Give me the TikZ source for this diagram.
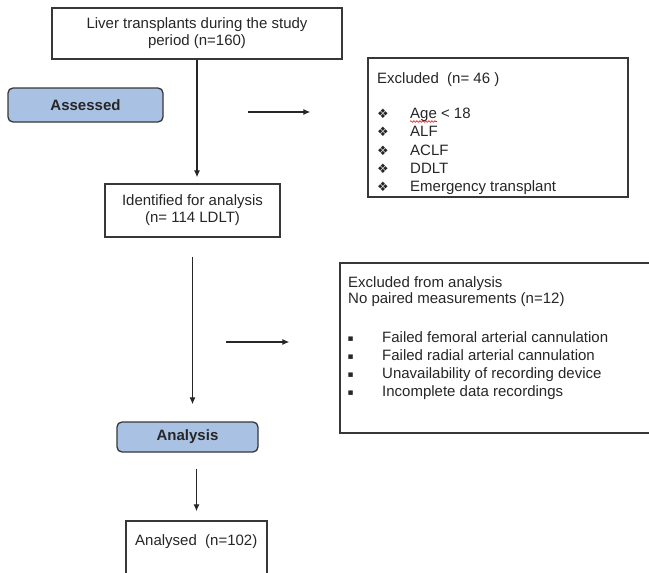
\documentclass[tikz,border=0pt]{standalone}
\usepackage{fontspec}
\setmainfont{Liberation Sans}
\newfontfamily\symfont{DejaVu Sans}
\usetikzlibrary{calc,arrows.meta,decorations.pathmorphing}
\definecolor{boxline}{RGB}{55,55,55}
\definecolor{stagefill}{RGB}{169,193,227}
\tikzstyle{every node}=[font=\fontsize{15}{17}\selectfont,text=black!85]
\tikzstyle{box}=[draw=boxline,line width=1.3pt,inner sep=0pt,align=center]
\tikzstyle{stage}=[box,rounded corners=5pt,fill=stagefill,font=\fontsize{15}{17}\selectfont\bfseries]
\tikzstyle{arr}=[-{Latex[length=7pt,width=6pt]},line width=1.2pt,draw=black!85]
\tikzstyle{lbl}=[anchor=base west,inner sep=0pt]

\begin{document}
\begin{tikzpicture}[x=1pt,y=-1pt]
  \useasboundingbox (0,0) rectangle (649,573);
  \clip (0,0) rectangle (649,573);

  % main column
  \node[box,minimum width=290pt,minimum height=51pt] (total) at (197,33.5) {Liver transplants during the study\\period (n=160)};
  \node[stage,minimum width=155pt,minimum height=34pt] (assessed) at (85.5,105) {Assessed};
  \node[box,minimum width=175pt,minimum height=53pt] (ident) at (192.5,210.5) {Identified for analysis\\(n= 114 LDLT)};
  \node[stage,minimum width=141pt,minimum height=30pt] (analysis) at (187.5,437) {Analysis};
  \node[box,minimum width=141pt,minimum height=80pt] (analysed) at (196.5,561) {};
  \node[lbl] (analysedtxt) at (135,545.5) {Analysed\ \ (n=102)};

  % first exclusion
  \node[box,minimum width=260pt,minimum height=139pt] (excl) at (498,127.5) {};
  \node[lbl] (excltitle) at (377,83.5) {Excluded\ \ (n= 46 )};
  \foreach \i/\txt in {0/Age < 18,1/ALF,2/ACLF,3/DDLT,4/Emergency transplant}{
    \node[lbl,font=\symfont\fontsize{13}{13}\selectfont] (exclbullet\i) at (377,118.5+18.25*\i) {❖};
    \node[lbl] (exclitem\i) at (410,118.5+18.25*\i) {\txt};
  }
  \draw[red,line width=0.6pt,decorate,decoration={snake,amplitude=0.8pt,segment length=3pt}]
    ($(exclitem0.base west)+(0,3)$) -- ++(27,0);

  % second exclusion
  \node[box,minimum width=360pt,minimum height=170pt] (nopair) at (520,348) {};
  \node[lbl] (nopairtitle) at (348,287) {Excluded from analysis};
  \node[lbl] (nopairsub) at (348,303) {No paired measurements (n=12)};
  \foreach \i/\txt in {0/Failed femoral arterial cannulation,1/Failed radial arterial cannulation,2/Unavailability of recording device,3/Incomplete data recordings}{
    \node[lbl,font=\symfont\fontsize{9}{9}\selectfont] (nopairbullet\i) at (347.5,341+18.3*\i) {▪};
    \node[lbl] (nopairitem\i) at (382,342+18.3*\i) {\txt};
  }

  % arrows
  \draw[arr,shorten >=6pt] (total.south) -- (total.south |- ident.north);
  \draw[arr,shorten <=19pt,shorten >=17pt] (ident.south) -- (ident.south |- analysis.north);
  \draw[arr,shorten <=16pt,shorten >=9pt] (analysed.north |- analysis.south) -- (analysed.north);
  \coordinate (toexcl) at (248,112);
  \draw[arr,shorten >=57pt] (toexcl) -- (toexcl -| excl.west);
  \coordinate (tonopair) at (226,342);
  \draw[arr,shorten >=50pt] (tonopair) -- (tonopair -| nopair.west);
\end{tikzpicture}
\end{document}
